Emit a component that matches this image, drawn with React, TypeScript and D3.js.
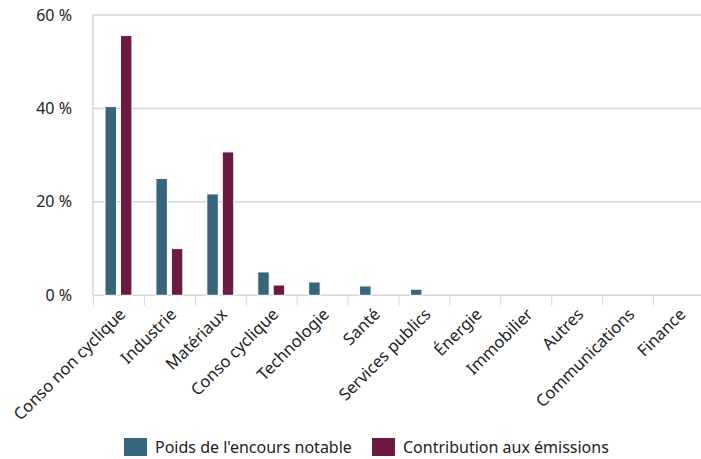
import React from "react";
import * as d3 from "d3";

const categories = [
  "Conso non cyclique",
  "Industrie",
  "Matériaux",
  "Conso cyclique",
  "Technologie",
  "Santé",
  "Services publics",
  "Énergie",
  "Immobilier",
  "Autres",
  "Communications",
  "Finance",
];
const seriesNames = ["Poids de l'encours notable", "Contribution aux émissions"];
const poids = [40.4, 25.0, 21.7, 5.0, 2.85, 2.0, 1.3, 0, 0, 0, 0, 0];
const contribution = [55.6, 10.0, 30.7, 2.2, 0, 0, 0, 0, 0, 0, 0, 0];
const seriesColors = ["#37657d", "#6c1a43"];
const yTicks = [0, 20, 40, 60];

const W = 701;
const H = 459;
const FONT = "'Noto Sans', 'Open Sans', sans-serif";

export default function App() {
  const left = 93;
  const right = 704;
  const top = 15;
  const bottom = 295.3;
  const x = d3.scaleBand<string>().domain(categories).range([left, right]).padding(0);
  const y = d3.scaleLinear().domain([0, 60]).range([bottom, top]);
  const bw = x.bandwidth();
  const x1 = d3
    .scaleBand<string>()
    .domain(seriesNames)
    .range([12, bw - 12])
    .paddingInner(0.258)
    .paddingOuter(0);
  const values = [poids, contribution];
  const tickXs = categories.map((c) => x(c)!);

  return (
    <div style={{ position: "absolute", left: 0, top: 0 }}>
      <svg width={W} height={H} style={{ display: "block", fontFamily: FONT }}>
        <rect width={W} height={H} fill="#fff" />
        {yTicks.map((t) => (
          <g key={t}>
            <line x1={left} x2={W} y1={y(t)} y2={y(t)} stroke="#d6d6d6" strokeWidth={1.5} />
            <text x={72} y={y(t) + 5.5} textAnchor="end" fontSize={16} fill="#222">
              {t} %
            </text>
          </g>
        ))}
        <line x1={left} x2={left} y1={top} y2={bottom} stroke="#d6d6d6" strokeWidth={1.5} />
        {tickXs.map((tx, i) => (
          <line key={i} x1={tx + 0.5} x2={tx + 0.5} y1={bottom + 1} y2={bottom + 10} stroke="#ccd6eb" strokeWidth={1} />
        ))}
        {values.map((vals, si) =>
          categories.map((c, i) =>
            vals[i] > 0 ? (
              <rect
                key={si + "-" + i}
                x={x(c)! + x1(seriesNames[si])!}
                y={y(vals[i])}
                width={x1.bandwidth()}
                height={bottom - y(vals[i])}
                fill={seriesColors[si]}
                stroke="#fff"
                strokeWidth={1}
              />
            ) : null
          )
        )}
        {categories.map((c) => {
          const cx = x(c)! + bw / 2 + 8;
          const cy = bottom + 20;
          return (
            <text
              key={c}
              transform={`translate(${cx},${cy}) rotate(-45)`}
              textAnchor="end"
              fontSize={16.5}
              fill="#222"
            >
              {c}
            </text>
          );
        })}
        {seriesNames.map((s, i) => {
          const lx = [124, 372][i];
          return (
            <g key={s}>
              <rect x={lx} y={438} width={23} height={18} fill={seriesColors[i]} />
              <text x={lx + 31} y={453} fontSize={16} fill="#222">
                {s}
              </text>
            </g>
          );
        })}
      </svg>
    </div>
  );
}
